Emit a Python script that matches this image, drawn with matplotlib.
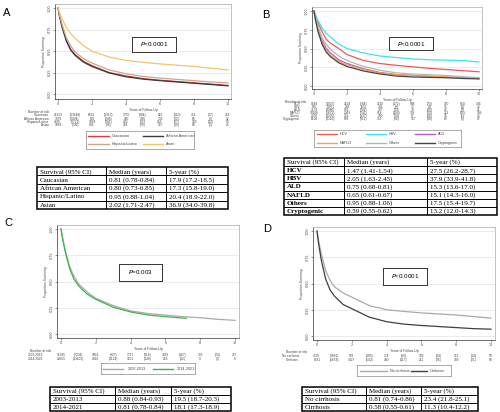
import matplotlib
matplotlib.use("Agg")
import matplotlib.pyplot as plt
from matplotlib.transforms import blended_transform_factory
from matplotlib.patches import Rectangle

## DATOS ##
years = [0, 0.1, 0.25, 0.5, 0.75, 1, 1.5, 2, 3, 4, 5, 6, 7, 8, 9, 10]

# A - race
race_names = ['Caucasian', 'African American', 'Hispanic/Latino', 'Asian']
surv_caucasian = [1.0, 0.90, 0.78, 0.62, 0.52, 0.46, 0.38, 0.33, 0.25, 0.21, 0.179, 0.16, 0.145, 0.13, 0.115, 0.10]
surv_afam = [1.0, 0.89, 0.77, 0.61, 0.51, 0.45, 0.37, 0.32, 0.245, 0.20, 0.173, 0.155, 0.14, 0.125, 0.11, 0.095]
surv_hispanic = [1.0, 0.91, 0.80, 0.65, 0.56, 0.49, 0.41, 0.36, 0.28, 0.235, 0.204, 0.185, 0.17, 0.155, 0.14, 0.13]
surv_asian = [1.0, 0.94, 0.87, 0.77, 0.70, 0.65, 0.56, 0.50, 0.43, 0.39, 0.369, 0.35, 0.335, 0.32, 0.30, 0.28]
risk_race = [
    [21873, 13648, 6431, 1313, 1755, 304, 823, 110, 451, 47, 218],
    [3879, 2404, 892, 249, 280, 48, 133, 22, 69, 6, 32],
    [4685, 2721, 1058, 281, 420, 65, 216, 27, 109, 12, 63],
    [1683, 736, 545, 96, 291, 29, 167, 10, 90, 6, 46],
]
table_race = [
    ['Caucasian', '0.81 (0.78-0.84)', '17.9 (17.2-18.5)'],
    ['African American', '0.80 (0.73-0.85)', '17.3 (15.8-19.0)'],
    ['Hispanic/Latino', '0.95 (0.88-1.04)', '20.4 (18.9-22.0)'],
    ['Asian', '2.02 (1.71-2.47)', '36.9 (34.0-39.8)'],
]

# B - etiology
etio_names = ['HCV', 'HBV', 'ALD', 'NAFLD', 'Others', 'Cryptogenic']
surv_hcv = [1.0, 0.93, 0.84, 0.72, 0.62, 0.57, 0.50, 0.42, 0.34, 0.30, 0.275, 0.255, 0.235, 0.22, 0.205, 0.19]
surv_hbv = [1.0, 0.94, 0.87, 0.77, 0.70, 0.65, 0.56, 0.50, 0.44, 0.40, 0.379, 0.36, 0.35, 0.345, 0.34, 0.32]
surv_ald = [1.0, 0.89, 0.76, 0.60, 0.50, 0.44, 0.35, 0.30, 0.23, 0.18, 0.153, 0.14, 0.13, 0.12, 0.11, 0.10]
surv_nafld = [1.0, 0.88, 0.74, 0.57, 0.47, 0.41, 0.33, 0.28, 0.22, 0.175, 0.151, 0.14, 0.13, 0.12, 0.11, 0.10]
surv_others = [1.0, 0.91, 0.79, 0.64, 0.55, 0.49, 0.40, 0.34, 0.26, 0.21, 0.175, 0.16, 0.15, 0.14, 0.125, 0.11]
surv_crypto = [1.0, 0.87, 0.72, 0.55, 0.45, 0.39, 0.31, 0.26, 0.20, 0.16, 0.132, 0.12, 0.115, 0.11, 0.10, 0.095]
risk_etio = [
    [8648, 4927, 2524, 604, 1130, 172, 588, 73, 300, 34, 145],
    [900, 395, 292, 55, 141, 9, 73, 4, 41, 1, 23],
    [3178, 1980, 592, 203, 197, 33, 79, 15, 42, 3, 21],
    [10166, 6675, 2363, 741, 854, 193, 393, 33, 222, 35, 109],
    [2000, 1230, 451, 137, 180, 34, 87, 16, 49, 5, 23],
    [6108, 4116, 903, 311, 352, 80, 157, 18, 83, 6, 47],
]
table_etio = [
    ['HCV', '1.47 (1.41-1.54)', '27.5 (26.2-28.7)'],
    ['HBV', '2.05 (1.63-2.45)', '37.9 (33.9-41.8)'],
    ['ALD', '0.75 (0.68-0.81)', '15.3 (13.6-17.0)'],
    ['NAFLD', '0.65 (0.61-0.67)', '15.1 (14.3-16.0)'],
    ['Others', '0.95 (0.88-1.06)', '17.5 (15.4-19.7)'],
    ['Cryptogenic', '0.59 (0.55-0.62)', '13.2 (12.0-14.3)'],
]

# C - period
period_names = ['2003-2013', '2014-2021']
surv_2003 = [1.0, 0.91, 0.79, 0.64, 0.55, 0.48, 0.40, 0.34, 0.27, 0.22, 0.195, 0.18, 0.165, 0.155, 0.14, 0.13]
years_2014 = [0, 0.1, 0.25, 0.5, 0.75, 1, 1.5, 2, 3, 4, 5, 6, 7, 7.2]
surv_2014 = [1.0, 0.90, 0.78, 0.62, 0.52, 0.46, 0.38, 0.33, 0.255, 0.21, 0.181, 0.165, 0.152, 0.15]
risk_period = [
    [11345, 7204, 3054, 927, 1711, 318, 1169, 167, 739, 74, 367],
    [22655, 13401, 4916, 1124, 1101, 140, 218, 12, 0, 0, 0],
]
table_period = [
    ['2003-2013', '0.88 (0.84-0.93)', '19.5 (18.7-20.3)'],
    ['2014-2021', '0.81 (0.78-0.84)', '18.1 (17.3-18.9)'],
]

# D - cirrhosis
cirr_names = ['No cirrhosis', 'Cirrhosis']
surv_nocirr = [1.0, 0.90, 0.78, 0.62, 0.53, 0.47, 0.41, 0.37, 0.29, 0.25, 0.234, 0.22, 0.21, 0.20, 0.185, 0.17]
surv_cirr = [1.0, 0.87, 0.72, 0.54, 0.44, 0.38, 0.30, 0.26, 0.18, 0.136, 0.113, 0.10, 0.09, 0.08, 0.07, 0.065]
risk_cirr = [
    [4535, 2681, 938, 189, 374, 50, 182, 14, 113, 14, 58],
    [8631, 5654, 1427, 542, 480, 117, 211, 26, 109, 21, 50],
]
table_cirr = [
    ['No cirrhosis', '0.81 (0.74-0.86)', '23.4 (21.8-25.1)'],
    ['Cirrhosis', '0.58 (0.55-0.61)', '11.3 (10.4-12.2)'],
]

header = ['Survival (95% CI)', 'Median (years)', '5-year (%)']
## DATOS ##

W, H = 500, 412
fig = plt.figure(figsize=(5, 4.12), dpi=100)
SANS = 'Liberation Sans'
SERIF = 'Liberation Serif'
SMALL = '#444444'


def fbox(l, t, r, b):
    return [l / W, 1 - b / H, (r - l) / W, (b - t) / H]


def km_axes(box, px0, px10, py1, py0):
    l, t, r, b = box
    ax = fig.add_axes(fbox(*box))
    sx = (px10 - px0) / 10.0
    sy = (py0 - py1)
    ax.set_xlim(-(px0 - l) / sx, 10 + (r - px10) / sx)
    ax.set_ylim(-(b - py0) / sy, 1 + (py1 - t) / sy)
    ax.set_xticks([0, 2, 4, 6, 8, 10])
    ax.set_yticks([0, 0.25, 0.5, 0.75, 1.0])
    ax.set_yticklabels(['0.00', '0.25', '0.50', '0.75', '1.00'], rotation=90, va='center')
    ax.tick_params(labelsize=2.4, length=1.5, width=0.4, pad=1, colors=SMALL)
    ax.grid(True, axis='y', color='#e3e3e3', lw=0.5)
    ax.set_axisbelow(True)
    for s in ['top', 'right']:
        ax.spines[s].set_color('#aaaaaa')
        ax.spines[s].set_linewidth(0.5)
    for s in ['left', 'bottom']:
        ax.spines[s].set_color('#333333')
        ax.spines[s].set_linewidth(0.5)
    ax.set_xlabel('Years of Follow-Up', fontsize=2.4, labelpad=1, family=SANS, color=SMALL)
    ax.set_ylabel('Proportion Surviving', fontsize=2.4, labelpad=1, family=SANS, color=SMALL)
    return ax


def risk_table(ax, name_x, head_x, head_y, ys, names, rows):
    tr = blended_transform_factory(ax.transData, fig.transFigure)
    fig.text(head_x / W, 1 - head_y / H, 'Number at risk', fontsize=2.3,
             family=SANS, va='center', ha='left', color=SMALL)
    for name, y, row in zip(names, ys, rows):
        fig.text(name_x / W, 1 - y / H, name, fontsize=2.3, family=SANS,
                 va='center', ha='right', color=SMALL)
        for i, v in enumerate(row):
            s = '(%d)' % v if i % 2 else '%d' % v
            ax.text(i, 1 - y / H, s, transform=tr, fontsize=2.3, family=SANS,
                    va='center', ha='center', color=SMALL)


def legend_box(box, entries, line_x, text_x, row_y):
    # entries: (label, color, col, row)
    l, t, r, b = box
    lg = fig.add_axes(fbox(*box))
    lg.set_xlim(l, r)
    lg.set_ylim(b, t)
    lg.set_xticks([])
    lg.set_yticks([])
    for s in lg.spines.values():
        s.set_color('#888888')
        s.set_linewidth(0.5)
    for lab, col, c, rr in entries:
        y = row_y[rr]
        lg.plot(line_x[c], [y, y], color=col, lw=1.0)
        lg.text(text_x[c], y, lab, fontsize=2.7, family=SANS, va='center',
                ha='left', color=SMALL)


def p_box(l, t, r, b, txt):
    pb = fig.add_axes(fbox(l, t, r, b))
    pb.set_xticks([])
    pb.set_yticks([])
    pb.patch.set_facecolor('white')
    for s in pb.spines.values():
        s.set_color('#333333')
        s.set_linewidth(0.7)
    pb.text(0.5, 0.5, r'$\it{P}$' + txt, fontsize=4.5, family=SANS,
            ha='center', va='center', transform=pb.transAxes)


def summary_table(l, t, r, b, cols, rows, bold_first=False):
    tb = fig.add_axes(fbox(l, t, r, b))
    tb.set_xlim(l, r)
    tb.set_ylim(b, t)
    tb.axis('off')
    n = len(rows) + 1
    rh = (b - t) / n
    tb.add_patch(Rectangle((l, t), r - l, b - t, fill=False, lw=1.1,
                           ec='black', clip_on=False))
    for k in range(1, n):
        tb.plot([l, r], [t + k * rh, t + k * rh], color='black', lw=0.7)
    for cx in cols:
        tb.plot([cx, cx], [t, b], color='black', lw=0.7)
    xs = [l + 3, cols[0] + 3, cols[1] + 3]
    allrows = [header] + rows
    for k, row in enumerate(allrows):
        y = t + (k + 0.55) * rh
        for j, txt in enumerate(row):
            w = 'bold' if (bold_first and j == 0 and k > 0) else 'normal'
            tb.text(xs[j], y, txt, fontsize=5, family=SERIF, weight=w,
                    va='center', ha='left')


## Panel A ##
fig.text(3 / W, 1 - 13 / H, 'A', fontsize=8, family=SANS, va='center')
axA = km_axes((55, 4, 231, 99), 58, 228, 8, 94)
colA = ['#e0383c', '#3a3a3a', '#c9a88a', '#f2c46d']
for s, c in zip([surv_caucasian, surv_afam, surv_hispanic, surv_asian], colA):
    axA.plot(years, s, color=c, lw=0.9)
p_box(132, 37, 176, 52, '<0.0001')
risk_table(axA, 49, 28, 112, [115.3, 118.6, 121.9, 125.2], race_names, risk_race)
legend_box((86, 131, 194, 149),
           [(race_names[0], colA[0], 0, 0), (race_names[1], colA[1], 1, 0),
            (race_names[2], colA[2], 0, 1), (race_names[3], colA[3], 1, 1)],
           [[88, 109], [143, 163]], [112, 166], [136, 144])
summary_table(37, 167, 228, 209, [106, 166], table_race)

## Panel B ##
fig.text(262 / W, 1 - 15 / H, 'B', fontsize=8, family=SANS, va='center')
axB = km_axes((312, 7, 482, 89), 314, 479, 11, 86)
colB = ['#f05858', '#3ee4ea', '#b45ec4', '#f5a14a', '#b5b5b5', '#454545']
for s, c in zip([surv_hcv, surv_hbv, surv_ald, surv_nafld, surv_others, surv_crypto], colB):
    axB.plot(years, s, color=c, lw=0.9)
p_box(389, 37, 433, 50, '<0.0001')
risk_table(axB, 300, 285, 101.7, [104.4, 107.4, 110.4, 113.4, 116.4, 119.4],
           etio_names, risk_etio)
legend_box((314, 130, 461, 147),
           [(etio_names[i], colB[i], i % 3, i // 3) for i in range(6)],
           [[317, 337], [366, 386], [415, 435]], [340, 389, 438], [134.3, 142.7])
summary_table(284, 158, 497, 215, [344, 427], table_etio, bold_first=True)

## Panel C ##
fig.text(4 / W, 1 - 223 / H, 'C', fontsize=8, family=SANS, va='center')
axC = km_axes((57, 225, 239, 338), 61, 235, 229, 334)
axC.plot(years, surv_2003, color='#aaaaaa', lw=0.9)
axC.plot(years_2014, surv_2014, color='#3cb44a', lw=0.9)
p_box(119, 264, 162, 281, '=0.003')
risk_table(axC, 43, 30, 351, [355, 359], period_names, risk_period)
legend_box((101, 363, 195, 374),
           [(period_names[0], '#aaaaaa', 0, 0), (period_names[1], '#3cb44a', 1, 0)],
           [[103, 123], [153, 173]], [128, 177], [368.5])
summary_table(50, 387, 231, 411, [115, 171], table_period)

## Panel D ##
fig.text(263 / W, 1 - 229 / H, 'D', fontsize=8, family=SANS, va='center')
axD = km_axes((313, 227, 495, 340), 317, 491, 231, 336)
axD.plot(years, surv_nocirr, color='#aaaaaa', lw=0.9)
axD.plot(years, surv_cirr, color='#404040', lw=0.9)
p_box(383, 268, 427, 285, '<0.0001')
risk_table(axD, 299, 286, 352, [356, 360], cirr_names, risk_cirr)
legend_box((357, 365, 451, 376),
           [(cirr_names[0], '#aaaaaa', 0, 0), (cirr_names[1], '#404040', 1, 0)],
           [[360, 387], [411, 427]], [390, 430], [370.5])
summary_table(302, 387, 478, 411, [366, 421], table_cirr)

plt.savefig('out.png', dpi=100)
